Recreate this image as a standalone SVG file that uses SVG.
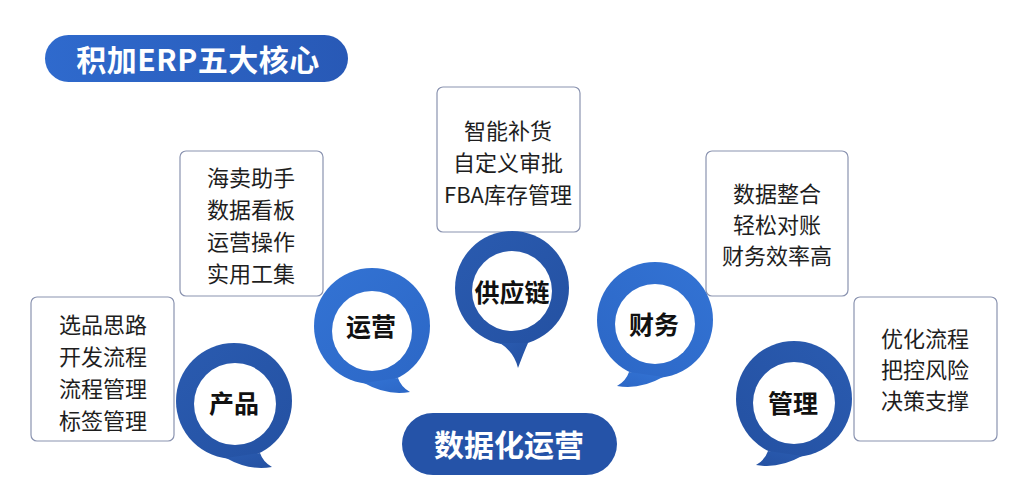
<svg xmlns="http://www.w3.org/2000/svg" width="1026" height="500" viewBox="0 0 1026 500">
<defs>
<linearGradient id="gDark" x1="0" y1="0" x2="1" y2="1">
<stop offset="0" stop-color="#2a5bb0"/>
<stop offset="1" stop-color="#2451a2"/>
</linearGradient>
<linearGradient id="gLight" x1="0" y1="0" x2="1" y2="1">
<stop offset="0" stop-color="#3373d4"/>
<stop offset="1" stop-color="#2c67c6"/>
</linearGradient>
<linearGradient id="gTitle" x1="0" y1="0" x2="1" y2="0">
<stop offset="0" stop-color="#2f6acd"/>
<stop offset="1" stop-color="#2859b6"/>
</linearGradient>
<g id="ringR">
<circle cx="0" cy="0" r="58"/>
<path d="M -8,57 Q 15,70 38,66 Q 29,61 26,52 Z"/>
</g>
<g id="ringD">
<circle cx="0" cy="0" r="57"/>
<path d="M -12,55 Q 2,64 6,80 Q 12,64 16,55 Z"/>
</g>
</defs>
<style>
.box{fill:#ffffff;stroke:#8a93b0;stroke-width:1.2}
.bt{font-family:"Noto Sans CJK SC","Noto Sans",sans-serif;font-size:22px;fill:#1e1e1e;text-anchor:middle;dominant-baseline:central}
.lbl{font-family:"Noto Sans CJK SC","Noto Sans",sans-serif;font-size:25px;font-weight:bold;fill:#111111;text-anchor:middle;dominant-baseline:central}
.pill{font-family:"Noto Sans CJK SC","Noto Sans",sans-serif;font-size:30px;font-weight:bold;fill:#ffffff;text-anchor:middle;dominant-baseline:central}
.inner{fill:#ffffff}
</style>
<rect width="1026" height="500" fill="#ffffff"/>

<g id="title">
<rect x="45" y="35" width="303" height="47" rx="23.5" fill="url(#gTitle)"/>
<text class="pill" x="198" y="58" letter-spacing="0.5">积加ERP五大核心</text>
</g>

<g id="box-product">
<rect class="box" x="31" y="297" width="143" height="144" rx="6"/>
<text class="bt" x="103" y="323">选品思路</text>
<text class="bt" x="103" y="355">开发流程</text>
<text class="bt" x="103" y="387">流程管理</text>
<text class="bt" x="103" y="419">标签管理</text>
</g>

<g id="box-ops">
<rect class="box" x="180" y="151" width="143" height="145" rx="6"/>
<text class="bt" x="251" y="176">海卖助手</text>
<text class="bt" x="251" y="208">数据看板</text>
<text class="bt" x="251" y="240">运营操作</text>
<text class="bt" x="251" y="272">实用工集</text>
</g>

<g id="box-supply">
<rect class="box" x="437" y="87" width="143" height="145" rx="6"/>
<text class="bt" x="508" y="129">智能补货</text>
<text class="bt" x="508" y="161">自定义审批</text>
<text class="bt" x="508" y="193">FBA库存管理</text>
</g>

<g id="box-finance">
<rect class="box" x="706" y="151" width="142" height="145" rx="6"/>
<text class="bt" x="777" y="192">数据整合</text>
<text class="bt" x="777" y="223">轻松对账</text>
<text class="bt" x="777" y="254">财务效率高</text>
</g>

<g id="box-manage">
<rect class="box" x="854" y="297" width="143" height="144" rx="6"/>
<text class="bt" x="925" y="337">优化流程</text>
<text class="bt" x="925" y="368">把控风险</text>
<text class="bt" x="925" y="399">决策支撑</text>
</g>

<g id="bubble-product">
<use href="#ringR" transform="translate(234,401)" fill="url(#gDark)"/>
<circle class="inner" cx="235" cy="404" r="41"/>
<text class="lbl" x="234" y="402">产品</text>
</g>

<g id="bubble-ops">
<use href="#ringR" transform="translate(372,326)" fill="url(#gLight)"/>
<circle class="inner" cx="372" cy="331" r="40"/>
<text class="lbl" x="371" y="325">运营</text>
</g>

<g id="bubble-supply">
<use href="#ringD" transform="translate(512,288)" fill="url(#gDark)"/>
<circle class="inner" cx="512" cy="291" r="40"/>
<text class="lbl" x="512" y="291">供应链</text>
</g>

<g id="bubble-finance">
<use href="#ringR" transform="translate(655,320) scale(-1,1)" fill="url(#gLight)"/>
<circle class="inner" cx="655" cy="324" r="40"/>
<text class="lbl" x="654" y="323">财务</text>
</g>

<g id="bubble-manage">
<use href="#ringR" transform="translate(794,399) scale(-1,1)" fill="url(#gDark)"/>
<circle class="inner" cx="794" cy="403" r="41"/>
<text class="lbl" x="793" y="402">管理</text>
</g>

<g id="footer">
<rect x="402" y="413" width="215" height="62" rx="31" fill="#2553a8"/>
<text class="pill" x="509" y="443">数据化运营</text>
</g>

<g id="connectors"></g>
</svg>
